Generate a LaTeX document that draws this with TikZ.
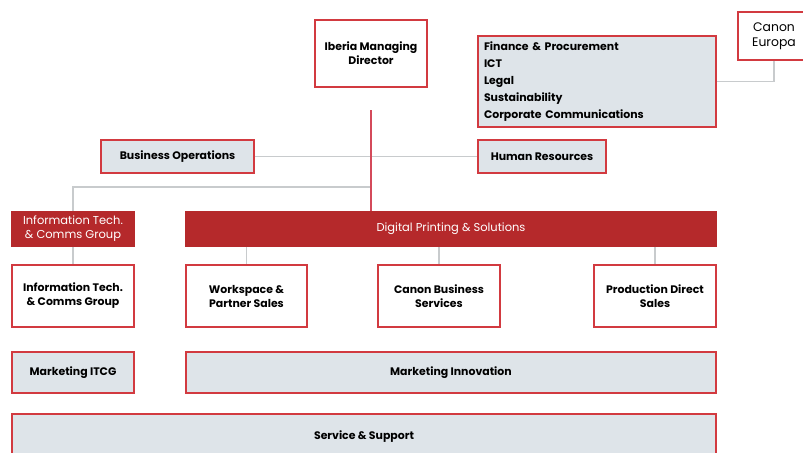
\documentclass[tikz,border=0pt]{standalone}
\usepackage{fontspec}
\setmainfont{Poppins}
\definecolor{boxred}{HTML}{D23A40}
\definecolor{barred}{HTML}{B5292B}
\definecolor{panel}{HTML}{DEE4E9}
\definecolor{wire}{HTML}{C8CBCD}
\definecolor{spine}{HTML}{D44A5A}
\begin{document}
\begin{tikzpicture}[x=0.75pt,y=-0.75pt,
  wh/.style 2 args={minimum width=#1*0.75pt, minimum height=#2*0.75pt},
  box/.style={draw=boxred, line width=1.4pt, fill=white, inner sep=0pt,
    align=center, font=\bfseries\fontsize{8.2}{10.5}\selectfont},
  panelbox/.style={box, fill=panel},
  headbar/.style={box, draw=barred, fill=barred, text=white,
    font=\fontsize{8.6}{10.5}\selectfont},
  wire/.style={draw=wire, line width=0.8pt},
  spineline/.style={draw=spine, line width=1pt}]
\useasboundingbox (0,0) rectangle (803,453);
\clip (0,0) rectangle (803,453);

% top level
\node[box, wh={112}{67}] (md) at (371,53.5) {Iberia Managing\\Director};
\node[panelbox, wh={238}{91}, text width=226*0.75pt, align=left,
  inner xsep=4.5pt, font=\bfseries\fontsize{8.2}{12.75}\selectfont] (fin) at (597,81.5)
  {Finance \& Procurement\\ICT\\Legal\\Sustainability\\Corporate Communications};
\node[box, wh={72}{48}, font=\fontsize{9.3}{11.5}\selectfont] (eu) at (774,36) {Canon\\Europa};

% staff functions
\node[panelbox, wh={153}{33}] (bo) at (177.5,156.5) {Business Operations};
\node[panelbox, wh={128}{33}] (hr) at (542,156.5) {Human Resources};

% group headers
\node[headbar, wh={122}{34}] (ith) at (73,229) {Information Tech.\\\& Comms Group};
\node[headbar, wh={530}{34}] (dps) at (451,229) {Digital Printing \& Solutions};

% business units
\node[box, wh={122}{62}] (itc) at (73,296) {Information Tech.\\\& Comms Group};
\node[box, wh={121}{62}] (wps) at (246.5,296) {Workspace \&\\Partner Sales};
\node[box, wh={122}{62}] (cbs) at (439,296) {Canon Business\\Services};
\node[box, wh={122}{62}] (pds) at (655,296) {Production Direct\\Sales};

% shared functions
\node[panelbox, wh={122}{41}] (mitcg) at (73,372.5) {Marketing ITCG};
\node[panelbox, wh={530}{41}] (mi) at (451,372.5) {Marketing Innovation};
\node[panelbox, wh={704}{46}] (ss) at (364,437) {Service \& Support};

% connectors
\coordinate (spinetop) at (371,110);
\coordinate (itjoin) at (371,187);
\draw[wire] (eu.south) |- (fin.east);
\draw[wire] (bo.east) -- (hr.west);
\draw[wire] (ith.north) |- (itjoin);
\draw[spineline] (spinetop) -- (spinetop |- dps.north);
\draw[wire] (ith.south) -- (itc.north);
\draw[wire] (dps.south -| wps.north) -- (wps.north);
\draw[wire] (dps.south -| cbs.north) -- (cbs.north);
\draw[wire] (dps.south -| pds.north) -- (pds.north);
\end{tikzpicture}
\end{document}
